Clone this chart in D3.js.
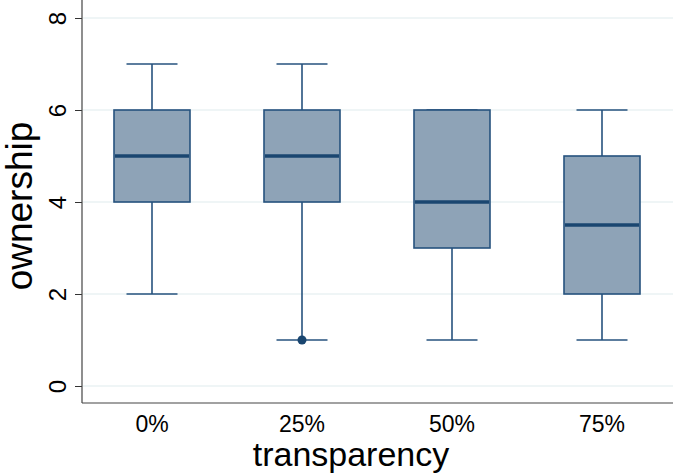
<!DOCTYPE html>
<html><head><meta charset="utf-8">
<script src="https://cdn.jsdelivr.net/npm/d3@7"></script>
<style>body{margin:0;background:#fff}svg{display:block}text{font-family:"Liberation Sans",Arial,sans-serif;fill:#000}</style>
</head><body><svg id="c" width="675" height="474"></svg>
<script>
const categories = ["0%","25%","50%","75%"];
const whiskerLow = [2,1,1,1];
const q1 = [4,4,3,2];
const median = [5,5,4,3.5];
const q3 = [6,6,6,5];
const whiskerHigh = [7,7,6,6];
const outliers = [[],[1],[],[]];
const yTicks = [0,2,4,6,8];

const svg = d3.select("#c");
const pLeft = 82, pRight = 673, pTop = 0, pBottom = 403;
const x = d3.scaleBand().domain(categories).range([77, 677]);
const y = d3.scaleLinear().domain([0,8]).range([386,18]);
const cx = c => x(c) + x.bandwidth()/2;

// gridlines
svg.append("g").selectAll("line").data(yTicks).join("line")
  .attr("x1", pLeft+1).attr("x2", pRight).attr("y1", d=>y(d)).attr("y2", d=>y(d))
  .attr("stroke", "#eaf2f3").attr("stroke-width", 1.3);

// y axis
const yAxis = d3.axisLeft(y).tickValues(yTicks).tickSize(7).tickPadding(6);
const gy = svg.append("g").attr("transform", `translate(${pLeft},0)`).call(yAxis);
gy.attr("font-size", null).attr("font-family", null);
gy.select(".domain").remove();
gy.selectAll(".tick line").attr("stroke", "#333");
gy.selectAll(".tick text").style("font-size", "24px").attr("transform", "rotate(-90)")
  .attr("text-anchor", "middle").attr("x", 0).attr("dy", 0).attr("y", -16);
svg.append("line").attr("x1", pLeft).attr("x2", pLeft).attr("y1", pTop).attr("y2", pBottom).attr("stroke", "#444").attr("stroke-width", 1.2);
svg.append("line").attr("x1", pLeft).attr("x2", pRight).attr("y1", pBottom).attr("y2", pBottom).attr("stroke", "#444").attr("stroke-width", 1.2);

// x labels
svg.append("g").selectAll("text").data(categories).join("text")
  .attr("x", d=>cx(d)).attr("y", 432).attr("text-anchor","middle").style("font-size", "23px").text(d=>d);

svg.append("text").attr("x", 351).attr("y", 466).attr("text-anchor","middle").style("font-size", "34px").text("transparency");
svg.append("text").attr("transform","translate(32,206) rotate(-90)").attr("text-anchor","middle").style("font-size", "37px").text("ownership");

const stroke = "#26527e", fill = "#8ea3b7", medCol = "#1a4670";
const boxW = 76, capW = 51;
const g = svg.append("g");
categories.forEach((c,i)=>{
  const X = cx(c);
  g.append("line").attr("x1",X).attr("x2",X).attr("y1",y(q3[i])).attr("y2",y(whiskerHigh[i])).attr("stroke",stroke).attr("stroke-width",1.6);
  g.append("line").attr("x1",X).attr("x2",X).attr("y1",y(q1[i])).attr("y2",y(whiskerLow[i])).attr("stroke",stroke).attr("stroke-width",1.6);
  g.append("line").attr("x1",X-capW/2).attr("x2",X+capW/2).attr("y1",y(whiskerHigh[i])).attr("y2",y(whiskerHigh[i])).attr("stroke",stroke).attr("stroke-width",1.6);
  g.append("line").attr("x1",X-capW/2).attr("x2",X+capW/2).attr("y1",y(whiskerLow[i])).attr("y2",y(whiskerLow[i])).attr("stroke",stroke).attr("stroke-width",1.6);
  g.append("rect").attr("x",X-boxW/2).attr("width",boxW).attr("y",y(q3[i])).attr("height",y(q1[i])-y(q3[i]))
    .attr("fill",fill).attr("stroke",stroke).attr("stroke-width",1.6);
  g.append("line").attr("x1",X-boxW/2+1).attr("x2",X+boxW/2-1).attr("y1",y(median[i])).attr("y2",y(median[i])).attr("stroke",medCol).attr("stroke-width",3.5);
  outliers[i].forEach(o=>{
    g.append("circle").attr("cx",X).attr("cy",y(o)).attr("r",4.5).attr("fill",medCol);
  });
});
</script></body></html>
